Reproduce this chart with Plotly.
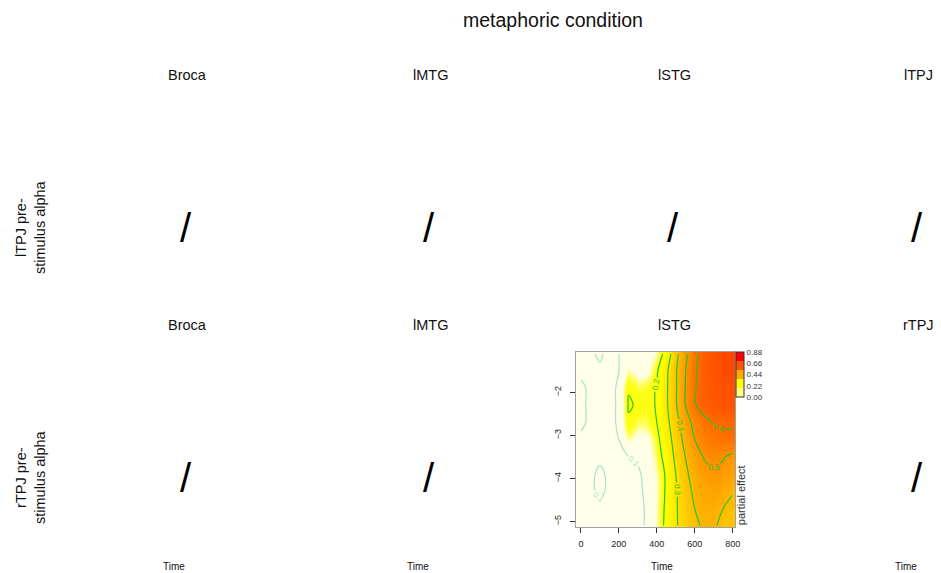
import plotly.graph_objects as go

# ---------------- data ----------------
main_title = "metaphoric condition"
row1_titles = ["Broca", "lMTG", "lSTG", "lTPJ"]
row2_titles = ["Broca", "lMTG", "lSTG", "rTPJ"]
row_labels = ["lTPJ pre-<br>stimulus alpha", "rTPJ pre-<br>stimulus alpha"]
x_label = "Time"
legend_label = "partial effect"

time = [0, 50, 100, 150, 200, 250, 300, 350, 400, 450, 500, 550, 600, 650, 700, 750, 800]
alpha = [-5.1, -4.7, -4.3, -3.9, -3.5, -3.1, -2.7, -2.3, -1.9, -1.5, -1.1]

# partial effect, one row per alpha value (bottom -> top), one column per time
effect = [
    [0.090, 0.085, 0.090, 0.090, 0.090, 0.090, 0.090, 0.105, 0.150, 0.220, 0.290, 0.340, 0.380, 0.415, 0.410, 0.380, 0.360],
    [0.090, 0.090, 0.095, 0.090, 0.090, 0.090, 0.090, 0.105, 0.150, 0.215, 0.290, 0.350, 0.400, 0.430, 0.435, 0.400, 0.380],
    [0.090, 0.095, 0.105, 0.095, 0.090, 0.090, 0.095, 0.105, 0.145, 0.210, 0.290, 0.360, 0.420, 0.450, 0.460, 0.440, 0.405],
    [0.090, 0.095, 0.105, 0.095, 0.090, 0.095, 0.095, 0.110, 0.150, 0.210, 0.300, 0.380, 0.440, 0.475, 0.490, 0.480, 0.460],
    [0.090, 0.090, 0.095, 0.090, 0.095, 0.100, 0.105, 0.120, 0.165, 0.230, 0.320, 0.400, 0.465, 0.505, 0.520, 0.505, 0.480],
    [0.095, 0.090, 0.090, 0.090, 0.100, 0.150, 0.130, 0.130, 0.180, 0.250, 0.340, 0.430, 0.500, 0.550, 0.575, 0.585, 0.585],
    [0.105, 0.095, 0.090, 0.090, 0.105, 0.196, 0.158, 0.165, 0.200, 0.270, 0.365, 0.455, 0.530, 0.580, 0.605, 0.610, 0.610],
    [0.105, 0.095, 0.090, 0.090, 0.105, 0.203, 0.197, 0.180, 0.205, 0.285, 0.390, 0.500, 0.595, 0.630, 0.650, 0.660, 0.665],
    [0.105, 0.095, 0.090, 0.090, 0.105, 0.198, 0.165, 0.175, 0.205, 0.285, 0.390, 0.500, 0.595, 0.635, 0.660, 0.670, 0.675],
    [0.095, 0.090, 0.095, 0.090, 0.100, 0.150, 0.130, 0.130, 0.190, 0.280, 0.390, 0.495, 0.590, 0.640, 0.665, 0.680, 0.690],
    [0.095, 0.095, 0.105, 0.090, 0.100, 0.120, 0.120, 0.120, 0.150, 0.230, 0.370, 0.480, 0.580, 0.640, 0.670, 0.690, 0.700],
]

x_ticks = [0, 200, 400, 600, 800]
y_ticks = [-2, -3, -4, -5]
legend_ticks = [0.00, 0.22, 0.44, 0.66, 0.88]
legend_colors = ["#FFFF80", "#FFFF00", "#FFAA00", "#FF5500", "#FF0000"]
contour_levels = (0.1, 0.8, 0.1)

# ---------------- layout helpers ----------------
W, H = 941, 573
SX = 0.9945  # compensation for the rendered page's horizontal scale
FONT = "Liberation Sans, Arial, sans-serif"


def px(x):
    return (x / SX) / W


def py(y):
    return 1 - y / H


zmin, zmax = legend_ticks[0], legend_ticks[-1]


def n(v):
    return v / zmax


heat_scale = [
    [0.0, "#FFFFF6"],
    [n(0.14), "#FFFFE4"],
    [n(0.158), "#FFFF70"],
    [n(0.175), "#FFFF18"],
    [n(0.22), "#FFFF00"],
    [n(0.44), "#FFAA00"],
    [n(0.66), "#FF5500"],
    [1.0, "#FF0000"],
]

disc_scale = []
k = len(legend_colors)
for i, c in enumerate(legend_colors):
    disc_scale.append([i / k, c])
    disc_scale.append([(i + 1) / k, c])

fig = go.Figure()

fig.add_trace(go.Heatmap(
    x=time, y=alpha, z=effect,
    colorscale=heat_scale, zmin=zmin, zmax=zmax,
    zsmooth="best", showscale=False, hoverinfo="skip",
))

fig.add_trace(go.Contour(
    x=time, y=alpha, z=effect,
    contours=dict(coloring="lines", start=contour_levels[0], end=contour_levels[1],
                  size=contour_levels[2], showlabels=True,
                  labelfont=dict(size=8, family=FONT)),
    colorscale=[[0, "#A6E6C4"], [1, "#22C422"]],
    zauto=False, zmin=0.1, zmax=0.2,
    line=dict(width=1.2), showscale=False, hoverinfo="skip",
))

fig.add_trace(go.Scatter(
    x=[None], y=[None], mode="markers", showlegend=False, hoverinfo="skip",
    marker=dict(color=[zmin], cmin=zmin, cmax=zmax, colorscale=disc_scale, showscale=True,
                colorbar=dict(
                    thickness=8, thicknessmode="pixels",
                    len=45, lenmode="pixels",
                    x=px(735.5), xanchor="left", y=py(352), yanchor="top",
                    outlinewidth=1, outlinecolor="#333333",
                    tickvals=legend_ticks, tickformat=".2f", ticks="",
                    tickfont=dict(size=8, family=FONT, color="#333333"),
                    ypad=0, xpad=0,
                )),
))

fig.update_xaxes(
    domain=[px(576), px(735)], range=[-25.5, 813],
    tickvals=x_ticks, ticks="outside", ticklen=5, tickcolor="#333333",
    ticklabelstandoff=3,
    tickfont=dict(size=9, family=FONT, color="#222222"),
    showline=True, linecolor="#A0A0A0", mirror=True, showgrid=False, zeroline=False,
)
fig.update_yaxes(
    domain=[py(527), py(352)], range=[-5.13, -1.06],
    tickvals=y_ticks, ticks="outside", ticklen=5, tickcolor="#333333", tickangle=-90,
    ticklabelstandoff=6,
    tickfont=dict(size=9, family=FONT, color="#222222"),
    showline=True, linecolor="#A0A0A0", mirror=True, showgrid=False, zeroline=False,
)

ann = []


def text(x, y, s, size, angle=0, color="#111111"):
    ann.append(dict(x=px(x), y=py(y), xref="paper", yref="paper", text=s, showarrow=False,
                    font=dict(size=size, family=FONT, color=color), textangle=angle,
                    xanchor="center", yanchor="middle", align="center"))


text(553, 20, main_title, 19.5)
col_x = [187, 430, 674, 918]
for cx, t1, t2 in zip(col_x, row1_titles, row2_titles):
    text(cx, 75, t1, 14.5)
    text(cx, 325, t2, 14.5)
text(30, 227, row_labels[0], 14.5, angle=-90)
text(30, 477, row_labels[1], 14.5, angle=-90)

# empty panels marked with a slash
for cx in col_x:
    text(cx - 1, 228, "/", 40, color="#000000")
for cx in [col_x[0], col_x[1], col_x[3]]:
    text(cx - 1, 478, "/", 40, color="#000000")

for tx in [174, 418, 662, 906]:
    text(tx, 566, x_label, 10)

text(741, 495, legend_label, 11, angle=-90, color="#333333")

fig.update_layout(
    width=W, height=H, margin=dict(l=0, r=0, t=0, b=0),
    paper_bgcolor="white", plot_bgcolor="white",
    font=dict(family=FONT), annotations=ann, showlegend=False,
)

fig.write_html("out.html")
